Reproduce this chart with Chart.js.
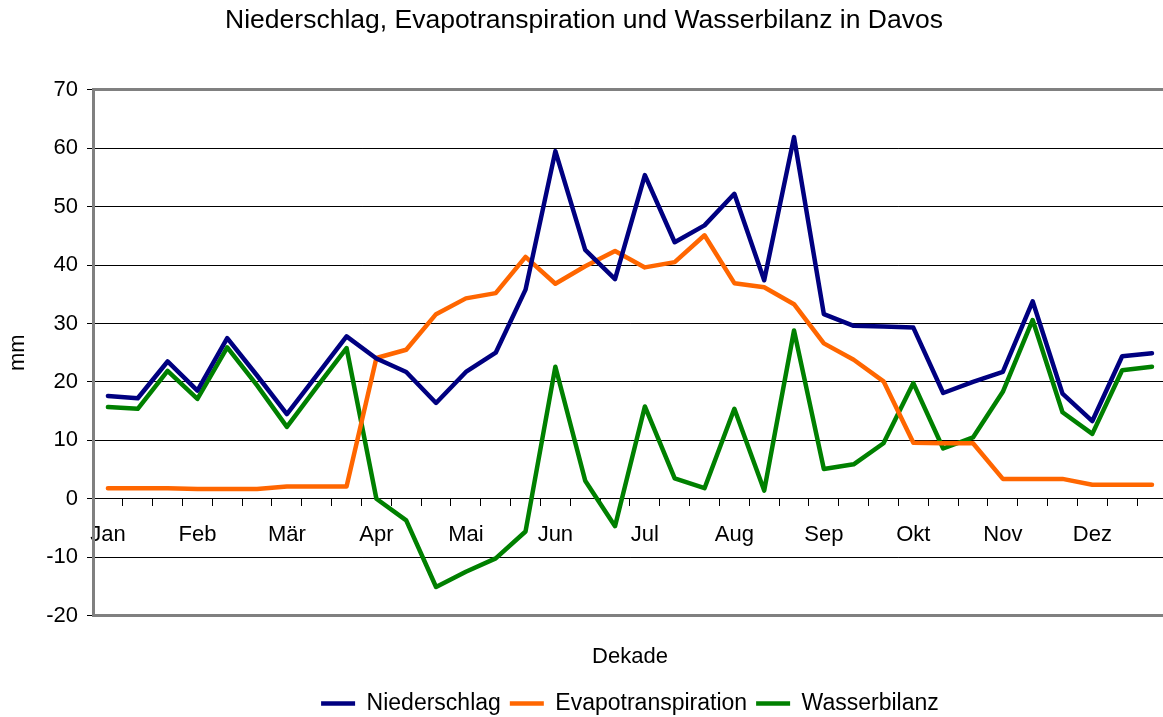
<!DOCTYPE html>
<html>
<head>
<meta charset="utf-8">
<title>Niederschlag, Evapotranspiration und Wasserbilanz in Davos</title>
<script src="https://cdn.jsdelivr.net/npm/chart.js@4.4.1/dist/chart.umd.min.js"></script>
<style>
    html, body { margin: 0; padding: 0; background: #fff; overflow: hidden; }
    canvas { display: block; }
</style>
</head>
<body>
<canvas id="chart" width="1168" height="725"></canvas>
<script>
// Monate, je drei Dekaden
const months = ['Jan', 'Feb', 'Mär', 'Apr', 'Mai', 'Jun', 'Jul', 'Aug', 'Sep', 'Okt', 'Nov', 'Dez'];
const dekaden = months.flatMap(m => [m + ' 1', m + ' 2', m + ' 3']);

// Werte in mm pro Dekade
const niederschlag = [17.6, 17.2, 23.5, 18.5, 27.5, 21.1, 14.5, 21.1, 27.8, 24.0, 21.7, 16.4,
                      21.7, 25.0, 35.8, 59.5, 42.6, 37.6, 55.4, 43.9, 46.8, 52.2, 37.4, 61.9,
                      31.6, 29.6, 29.5, 29.3, 18.1, 20.0, 21.7, 33.8, 18.0, 13.3, 24.4, 24.9];
const evapotranspiration = [1.8, 1.8, 1.8, 1.65, 1.65, 1.65, 2.1, 2.1, 2.1, 24.1, 25.5, 31.6,
                            34.3, 35.2, 41.4, 36.8, 39.8, 42.4, 39.6, 40.5, 45.1, 36.9, 36.2, 33.3,
                            26.6, 23.8, 20.1, 9.6, 9.5, 9.5, 3.4, 3.4, 3.4, 2.4, 2.4, 2.4];
const wasserbilanz = [15.7, 15.4, 21.9, 17.1, 25.9, 19.4, 12.3, 19.1, 25.8, 0, -3.7, -15.1,
                      -12.5, -10.2, -5.6, 22.6, 3.1, -4.7, 15.8, 3.5, 1.8, 15.4, 1.4, 28.8,
                      5.1, 5.9, 9.5, 19.8, 8.6, 10.5, 18.3, 30.6, 14.8, 11.1, 22.0, 22.6];

const yMin = -20;
const yMax = 70;

Chart.defaults.font.family = '"Liberation Sans", Arial, sans-serif';
Chart.defaults.color = '#000';

function line(label, data, color) {
    return {
        label: label,
        data: data,
        borderColor: color,
        backgroundColor: color,
        borderWidth: 4.5,
        borderJoinStyle: 'round',
        borderCapStyle: 'round',
        pointRadius: 0,
        tension: 0,
        fill: false
    };
}

const ctx = document.getElementById('chart').getContext('2d');
new Chart(ctx, {
    type: 'line',
    data: {
        labels: dekaden,
        datasets: [
            line('Niederschlag', niederschlag, '#000080'),
            line('Evapotranspiration', evapotranspiration, '#FF6600'),
            line('Wasserbilanz', wasserbilanz, '#008000')
        ]
    },
    options: {
        responsive: false,
        animation: false,
        devicePixelRatio: 1,
        layout: { padding: { left: 0, right: 0, top: 0, bottom: 0 } },
        plugins: {
            tooltip: { enabled: false },
            title: {
                display: true,
                text: 'Niederschlag, Evapotranspiration und Wasserbilanz in Davos',
                font: { size: 26.5, weight: 'normal' },
                padding: { top: 5, bottom: 53 }
            },
            legend: {
                position: 'bottom',
                fullSize: false,
                labels: {
                    usePointStyle: true,
                    pointStyle: 'line',
                    pointStyleWidth: 34,
                    padding: 9,
                    font: { size: 23 }
                }
            }
        },
        scales: {
            x: {
                type: 'category',
                position: { y: 0 },
                offset: true,
                grid: {
                    offset: true,
                    drawOnChartArea: false,
                    drawTicks: true,
                    tickLength: 7,
                    color: '#000',
                    lineWidth: 1
                },
                border: { color: '#000', width: 1 },
                ticks: {
                    autoSkip: false,
                    maxRotation: 0,
                    padding: 16,
                    font: { size: 22 },
                    callback: (value, index) => index % 3 === 0 ? months[index / 3] : ''
                }
            },
            xTitle: {
                type: 'category',
                position: 'bottom',
                offset: true,
                grid: { display: false, drawTicks: false },
                border: { display: false },
                ticks: { display: false },
                title: {
                    display: true,
                    text: 'Dekade',
                    font: { size: 22 },
                    padding: { top: 28, bottom: 13 }
                }
            },
            y: {
                min: yMin,
                max: yMax,
                afterFit: scale => { scale.width = 93; },
                ticks: { stepSize: 10, padding: 9, font: { size: 22 } },
                grid: {
                    color: c => (c.tick.value === yMin || c.tick.value === yMax) ? '#808080' : '#000',
                    lineWidth: c => (c.tick.value === yMin || c.tick.value === yMax) ? 3 : 1,
                    tickColor: '#000',
                    tickWidth: 1,
                    tickLength: 6
                },
                border: { color: '#808080', width: 3 },
                title: {
                    display: true,
                    text: 'mm',
                    font: { size: 22 },
                    padding: { top: 5, bottom: 0 }
                }
            }
        }
    }
});
</script>
</body>
</html>
